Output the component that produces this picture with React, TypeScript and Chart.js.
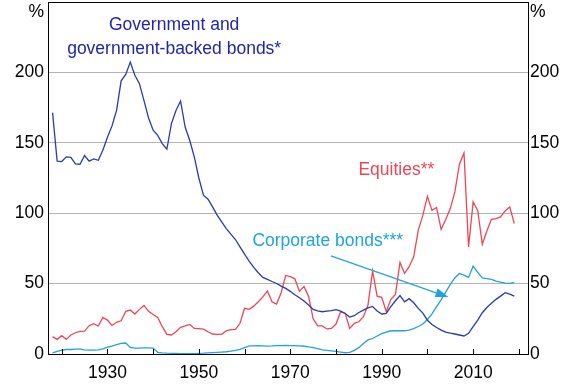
import React, { useEffect, useRef } from "react";
import { Chart, registerables } from "chart.js";

Chart.register(...registerables);

const years = [
  1918, 1919, 1920, 1921, 1922, 1923, 1924, 1925, 1926, 1927, 1928, 1929,
  1930, 1931, 1932, 1933, 1934, 1935, 1936, 1937, 1938, 1939,
  1940, 1941, 1942, 1943, 1944, 1945, 1946, 1947, 1948, 1949,
  1950, 1951, 1952, 1953, 1954, 1955, 1956, 1957, 1958, 1959,
  1960, 1961, 1962, 1963, 1964, 1965, 1966, 1967, 1968, 1969,
  1970, 1971, 1972, 1973, 1974, 1975, 1976, 1977, 1978, 1979,
  1980, 1981, 1982, 1983, 1984, 1985, 1986, 1987, 1988, 1989,
  1990, 1991, 1992, 1993, 1994, 1995, 1996, 1997, 1998, 1999,
  2000, 2001, 2002, 2003, 2004, 2005, 2006, 2007, 2008, 2009,
  2010, 2011, 2012, 2013, 2014, 2015, 2016, 2017, 2018, 2019,
];

const government = [
  171.4, 137, 136.7, 140, 139.7, 135, 134.8, 141, 137, 138.5, 137.6, 144.7,
  154, 162, 173, 194, 198.6, 207.3, 198, 192, 180, 167.6,
  158.9, 155.3, 149.4, 145.4, 163.6, 173, 179.7, 161.2, 151.8, 140,
  125, 112.8, 109.9, 104.5, 98.6, 93.8, 89.1, 85.1, 81.3, 76.1,
  70.9, 66, 61.5, 57.7, 54.4, 53, 51.5, 50.1, 48.2, 46.6,
  44.5, 42.1, 40, 37.6, 34.8, 31.7, 30.7, 30, 30.5, 30.8,
  31.5, 30.5, 28.8, 26.2, 27.2, 29.5, 31.2, 32.8, 33.8, 30.5,
  28.4, 28.8, 33.6, 37.8, 41.5, 37.1, 39.3, 36.4, 32.4, 29,
  24, 21, 18.8, 17, 15.6, 14.8, 14.2, 13.5, 12.8, 14.7,
  19.5, 24.1, 29.3, 33, 36, 38.8, 41.1, 43.5, 42.5, 41.1,
];

const equities = [
  12.3, 10.4, 13, 10.4, 13.5, 15.1, 16.1, 16.3, 20.1, 21.5, 19.9, 26,
  24.1, 20.3, 22.5, 23.6, 30.3, 31.2, 28.4, 31.7, 34.5, 30.3,
  28.1, 26, 19.4, 14, 13.5, 15.8, 18.9, 19.9, 21, 18.2,
  18, 17.7, 15.8, 14.2, 14, 14, 16.5, 17.3, 17.5, 21.8,
  32.4, 31.7, 34, 37.1, 40.6, 44.7, 37.1, 35.5, 43.5, 55.8,
  55, 53.4, 44.5, 48, 41, 25, 20, 20, 17.8, 18.2,
  21.3, 30, 29, 18.2, 21.8, 22.9, 26.5, 34.8, 59, 41.1,
  40.2, 30, 38.8, 42.3, 65, 57.2, 62, 69, 88, 98.6,
  112, 102, 104, 88.4, 95.5, 103.3, 115.1, 134.8, 142.8, 76.1,
  108, 102, 78, 87.4, 95.7, 96.2, 97.4, 101.6, 104.5, 92.7,
];

const corporate = [
  0.8, 1.8, 2.8, 3.2, 3.2, 3.4, 3.4, 3.0, 2.8, 2.8, 3.0, 3.7,
  4.9, 5.6, 6.6, 7.5, 7.8, 4.7, 4.2, 4.2, 4.4, 4.4,
  4.2, 1.2, 0.8, 0.6, 0.5, 0.4, 0.3, 0.3, 0.3, 0.3,
  0.5, 0.6, 0.8, 1.0, 1.2, 1.4, 1.6, 2.0, 2.5, 3.3,
  4.5, 5.7, 5.8, 5.9, 5.8, 5.6, 5.7, 5.9, 6.0, 6.1,
  6.0, 5.9, 5.7, 5.5, 5.0, 4.6, 3.8, 3.0, 2.6, 2.2,
  1.8, 1.4, 0.9, 1.2, 2.6, 4.5, 7.5, 10.0, 11.0, 12.8,
  14.5, 15.5, 16.5, 16.5, 16.5, 16.5, 17.0, 18.0, 19.5, 21.3,
  24.5, 28.5, 33.6, 38.5, 44, 49.5, 54, 57.2, 56, 54.4,
  62.4, 58, 54, 53.5, 53, 51.8, 51, 50.3, 50.1, 50.8,
];

const yTicks = [0, 50, 100, 150, 200, 250];
const xTickMarks = [1920, 1930, 1940, 1950, 1960, 1970, 1980, 1990, 2000, 2010, 2020];
const xLabelYears = [1930, 1950, 1970, 1990, 2010];

const GOV = "#2b3aae";
const GOV_TEXT = "#1f26a6";
const EQ = "#ef4655";
const CORP = "#1ea3e0";
const FONT = "Arial, 'Liberation Sans', sans-serif";
const FS = 17.5;

// annotation anchors in data coordinates
const govLabel = { x: 1944.6, lines: [{ text: "Government and", y: 233.3 }, { text: "government-backed bonds*", y: 216.3 }] };
const eqLabel = { x: 1993.2, y: 130.5, text: "Equities**" };
const corpLabel = { x: 1978.2, y: 80.1, text: "Corporate bonds***" };
const corpArrow = { x1: 1978.9, y1: 69.7, x2: 2004.6, y2: 40.4 };

const toPts = (vals: number[]) => years.map((yr, i) => ({ x: yr, y: vals[i] }));

const decorPlugin = {
  id: "decor",
  afterDraw(chart: any) {
    const { ctx, chartArea } = chart;
    const xs = chart.scales.x;
    const ys = chart.scales.y;
    const { left, right, top, bottom } = chartArea;
    ctx.save();
    // frame
    ctx.strokeStyle = "#000";
    ctx.lineWidth = 1;
    ctx.strokeRect(left + 0.5, top + 0.5, right - left, bottom - top);
    // inward x ticks
    ctx.beginPath();
    xTickMarks.forEach((v) => {
      const px = Math.round(xs.getPixelForValue(v)) + 0.5;
      ctx.moveTo(px, bottom);
      ctx.lineTo(px, bottom - 5);
    });
    ctx.stroke();
    // % labels
    ctx.fillStyle = "#000";
    ctx.font = `${FS}px ${FONT}`;
    ctx.textBaseline = "middle";
    ctx.textAlign = "right";
    ctx.fillText("%", left - 4, top + 10);
    ctx.textAlign = "left";
    ctx.fillText("%", right + 2, top + 10);
    // annotations
    ctx.textAlign = "center";
    ctx.fillStyle = GOV_TEXT;
    govLabel.lines.forEach((l) => {
      ctx.fillText(l.text, xs.getPixelForValue(govLabel.x), ys.getPixelForValue(l.y));
    });
    ctx.fillStyle = EQ;
    ctx.fillText(eqLabel.text, xs.getPixelForValue(eqLabel.x), ys.getPixelForValue(eqLabel.y));
    ctx.fillStyle = CORP;
    ctx.fillText(corpLabel.text, xs.getPixelForValue(corpLabel.x), ys.getPixelForValue(corpLabel.y));
    // arrow
    const ax1 = xs.getPixelForValue(corpArrow.x1);
    const ay1 = ys.getPixelForValue(corpArrow.y1);
    const ax2 = xs.getPixelForValue(corpArrow.x2);
    const ay2 = ys.getPixelForValue(corpArrow.y2);
    const ang = Math.atan2(ay2 - ay1, ax2 - ax1);
    const hl = 13;
    const hw = 4.5;
    const bx = ax2 - hl * Math.cos(ang);
    const by = ay2 - hl * Math.sin(ang);
    ctx.strokeStyle = CORP;
    ctx.lineWidth = 1.2;
    ctx.beginPath();
    ctx.moveTo(ax1, ay1);
    ctx.lineTo(bx, by);
    ctx.stroke();
    ctx.fillStyle = CORP;
    ctx.beginPath();
    ctx.moveTo(ax2, ay2);
    ctx.lineTo(bx + hw * Math.sin(ang), by - hw * Math.cos(ang));
    ctx.lineTo(bx - hw * Math.sin(ang), by + hw * Math.cos(ang));
    ctx.closePath();
    ctx.fill();
    ctx.restore();
  },
};

export default function App() {
  const ref = useRef<HTMLCanvasElement | null>(null);
  useEffect(() => {
    document.body.style.margin = "0";
    if (!ref.current) return;
    Chart.defaults.font.family = FONT;
    const yAxisCommon = {
      type: "linear" as const,
      min: 0,
      max: 250,
      afterBuildTicks: (s: any) => {
        s.ticks = yTicks.map((v) => ({ value: v }));
      },
      border: { display: false },
    };
    const chart = new Chart(ref.current, {
      type: "line",
      data: {
        datasets: [
          { label: "Government and government-backed bonds", data: toPts(government), borderColor: GOV, borderWidth: 1.3 },
          { label: "Equities", data: toPts(equities), borderColor: EQ, borderWidth: 1.3 },
          { label: "Corporate bonds", data: toPts(corporate), borderColor: CORP, borderWidth: 1.3 },
        ],
      },
      options: {
        responsive: false,
        animation: false,
        devicePixelRatio: 1,
        layout: { padding: { top: 2, left: 0, right: 0, bottom: 0 } },
        elements: { point: { radius: 0 }, line: { tension: 0 } },
        plugins: { legend: { display: false }, tooltip: { enabled: false } },
        scales: {
          x: {
            type: "linear",
            min: 1917,
            max: 2022,
            afterBuildTicks: (s: any) => {
              s.ticks = xTickMarks.map((v) => ({ value: v }));
            },
            afterFit: (s: any) => {
              s.height = 31;
              s.paddingLeft = 0;
              s.paddingRight = 0;
            },
            grid: { display: false },
            border: { display: false },
            ticks: {
              autoSkip: false,
              maxRotation: 0,
              padding: 1,
              color: "#000",
              font: { size: FS },
              callback: (v: any) => (xLabelYears.includes(Number(v)) ? String(v) : ""),
            },
          },
          y: {
            ...yAxisCommon,
            position: "left",
            afterFit: (s: any) => {
              s.width = 48;
              s.paddingTop = 0;
              s.paddingBottom = 0;
            },
            grid: { color: "#b4b4b4", lineWidth: 1, drawTicks: false },
            ticks: {
              padding: 4,
              color: "#000",
              font: { size: FS },
              callback: (v: any) => (Number(v) === 250 ? "" : String(v)),
            },
          },
          y2: {
            ...yAxisCommon,
            position: "right",
            afterFit: (s: any) => {
              s.width = 43;
              s.paddingTop = 0;
              s.paddingBottom = 0;
            },
            grid: { display: false, drawTicks: false },
            ticks: {
              padding: 2,
              color: "#000",
              font: { size: FS },
              callback: (v: any) => (Number(v) === 250 ? "" : String(v)),
            },
          },
        },
      },
      plugins: [decorPlugin],
    });
    return () => chart.destroy();
  }, []);
  return (
    <div style={{ width: 571, height: 385 }}>
      <canvas ref={ref} width={571} height={385} />
    </div>
  );
}
